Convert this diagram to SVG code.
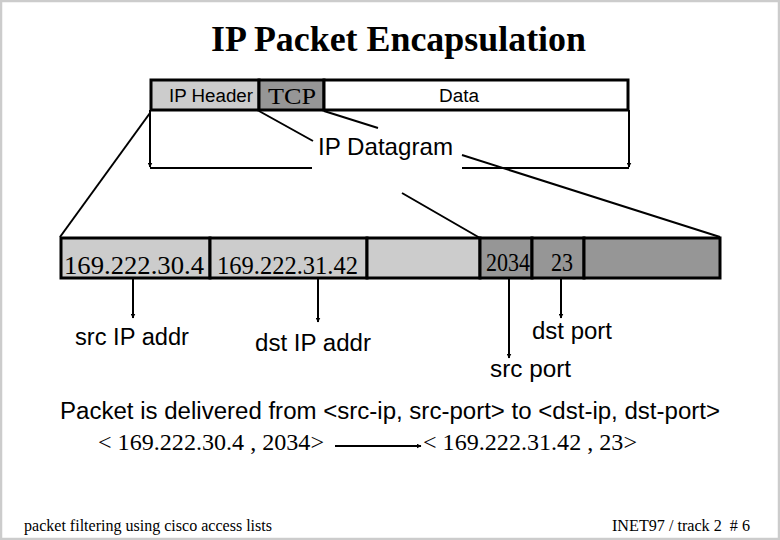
<svg xmlns="http://www.w3.org/2000/svg" width="780" height="540" viewBox="0 0 780 540">
<style>
.sans{font-family:"Liberation Sans",Arial,sans-serif;fill:#000}
.serif{font-family:"Liberation Serif","Times New Roman",serif;fill:#000}
.cell{stroke:#000;stroke-width:3}
.lt{fill:#cccccc}
.dk{fill:#969696}
.wt{fill:#ffffff}
.ln{stroke:#000;stroke-width:2;fill:none}
.ar{stroke:#000;stroke-width:2;fill:none;marker-end:url(#ah)}
</style>
<defs>
<marker id="ah" viewBox="0 0 10 10" refX="9" refY="5" markerWidth="5" markerHeight="5" orient="auto" markerUnits="userSpaceOnUse">
<path d="M0,0 L10,5 L0,10 z" fill="#000"/>
</marker>
</defs>
<rect x="0" y="0" width="780" height="540" fill="#fff"/>
<rect x="1" y="1" width="778" height="538" fill="none" stroke="#cccccc" stroke-width="2.5"/>
<text class="serif" x="211" y="51" font-size="36" font-weight="bold" textLength="375" lengthAdjust="spacingAndGlyphs">IP Packet Encapsulation</text>

<g id="top-packet">
<rect class="cell lt" x="151" y="80" width="108" height="30"/>
<rect class="cell dk" x="259" y="80" width="65" height="30"/>
<rect class="cell wt" x="324" y="80" width="304" height="30"/>
<text class="sans" x="169" y="102" font-size="18" textLength="84" lengthAdjust="spacingAndGlyphs">IP Header</text>
<text class="serif" x="268" y="104" font-size="23" textLength="48" lengthAdjust="spacingAndGlyphs">TCP</text>
<text class="sans" x="439" y="102" font-size="18" textLength="40" lengthAdjust="spacingAndGlyphs">Data</text>
</g>

<g id="datagram-label">
<text class="sans" x="318" y="155" font-size="24" textLength="135" lengthAdjust="spacingAndGlyphs">IP Datagram</text>
</g>

<g id="bottom-packet">
<rect class="cell lt" x="61" y="238" width="149" height="40"/>
<rect class="cell lt" x="210" y="238" width="157" height="40"/>
<rect class="cell lt" x="367" y="238" width="113" height="40"/>
<rect class="cell dk" x="480" y="238" width="52" height="40"/>
<rect class="cell dk" x="532" y="238" width="52" height="40"/>
<rect class="cell dk" x="584" y="238" width="136" height="40"/>
<text class="serif" x="64" y="274" font-size="25" textLength="140" lengthAdjust="spacingAndGlyphs">169.222.30.4</text>
<text class="serif" x="217" y="274" font-size="25" textLength="141" lengthAdjust="spacingAndGlyphs">169.222.31.42</text>
<text class="serif" x="486" y="271" font-size="25" textLength="44" lengthAdjust="spacingAndGlyphs">2034</text>
<text class="serif" x="551" y="271" font-size="25" textLength="22" lengthAdjust="spacingAndGlyphs">23</text>
</g>

<g id="labels">
<text class="sans" x="75" y="345" font-size="23" textLength="114" lengthAdjust="spacingAndGlyphs">src IP addr</text>
<text class="sans" x="255" y="351" font-size="23" textLength="116" lengthAdjust="spacingAndGlyphs">dst IP addr</text>
<text class="sans" x="532" y="339" font-size="23" textLength="80" lengthAdjust="spacingAndGlyphs">dst port</text>
<text class="sans" x="490" y="377" font-size="23" textLength="81" lengthAdjust="spacingAndGlyphs">src port</text>
<text class="sans" x="60" y="419" font-size="23" textLength="660" lengthAdjust="spacingAndGlyphs">Packet is delivered from &lt;src-ip, src-port&gt; to &lt;dst-ip, dst-port&gt;</text>
<text class="serif" x="98" y="450" font-size="24" textLength="226" lengthAdjust="spacingAndGlyphs">&lt; 169.222.30.4 , 2034&gt;</text>
<text class="serif" x="423" y="450" font-size="24" textLength="214" lengthAdjust="spacingAndGlyphs">&lt; 169.222.31.42 , 23&gt;</text>
</g>

<g id="footer">
<text class="serif" x="24" y="531" font-size="16" textLength="248" lengthAdjust="spacingAndGlyphs">packet filtering using cisco access lists</text>
<text class="serif" x="612" y="531" font-size="16" textLength="138" lengthAdjust="spacingAndGlyphs" xml:space="preserve">INET97 / track 2  # 6</text>
</g>

<g id="connectors">
<path class="ar" d="M150,110 V167"/>
<path class="ar" d="M629,110 V167"/>
<path class="ln" d="M150,168 H312 M462,168 H629"/>
<path class="ln" d="M150,113 L60,237"/>
<path class="ln" d="M259,111 L313,141 M402,193 L480,238"/>
<path class="ln" d="M324,111 L378,128 M462,155 L720,237"/>
<path class="ar" d="M133,279 V318"/>
<path class="ar" d="M318,279 V322"/>
<path class="ar" d="M509,279 V358"/>
<path class="ar" d="M561,279 V318"/>
<path class="ar" d="M335,446 H421"/>
</g>
</svg>
